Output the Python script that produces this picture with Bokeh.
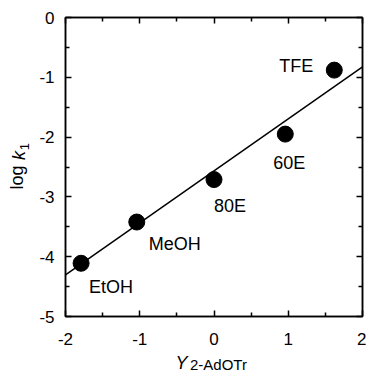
import math
from bokeh.plotting import figure
from bokeh.models import (ColumnDataSource, FixedTicker, LinearAxis, Range1d,
                          CustomJSTickFormatter)
from bokeh.core.properties import value
from bokeh.embed import file_html
from bokeh.resources import INLINE

# ---- data ----
solvents = ["EtOH", "MeOH", "80E", "60E", "TFE"]
y_2adotr = [-1.79, -1.04, 0.00, 0.96, 1.62]
log_k1 = [-4.11, -3.42, -2.71, -1.95, -0.88]
fit_slope = 0.87
fit_intercept = -2.565

x_ticks = [-2, -1, 0, 1, 2]
x_tick_labels = ["-2", "-1", "0", "1", "2"]
x_minor = [-1.5, -0.5, 0.5, 1.5]
y_ticks = [0, -1, -2, -3, -4, -5]
y_tick_labels = ["0", "-1", "-2", "-3", "-4", "-5"]
y_minor = [-0.5, -1.5, -2.5, -3.5, -4.5]

FONT = "Liberation Sans"
X0, X1 = -2, 2
Y0, Y1 = -5, 0

# ---- layout (canvas pixels) ----
FL, FR, FT, FB = 65, 362, 17, 316
W, H = 366, 376
TICK_FS = 17
X_STANDOFF, Y_STANDOFF = 16, 11

p = figure(width=W, height=H, x_range=Range1d(X0, X1), y_range=Range1d(Y0, Y1),
           output_backend="svg", toolbar_location=None,
           min_border_left=FL, min_border_right=W - FR,
           min_border_top=FT, min_border_bottom=H - FB,
           x_axis_location=None, y_axis_location=None)
p.xgrid.visible = False
p.ygrid.visible = False
p.outline_line_color = "black"
p.outline_line_width = 1.5
p.background_fill_color = "white"
p.border_fill_color = "white"


def make_axis(ticks, minor, labels, show_labels, standoff=0):
    ax = LinearAxis(ticker=FixedTicker(ticks=ticks, minor_ticks=minor))
    ax.major_label_overrides = {t: l for t, l in zip(ticks, labels)}
    ax.axis_line_color = "black"
    ax.axis_line_width = 1.5
    ax.major_tick_line_color = "black"
    ax.major_tick_line_width = 1.5
    ax.minor_tick_line_color = "black"
    ax.minor_tick_line_width = 1.5
    ax.major_tick_in = 6
    ax.major_tick_out = 0
    ax.minor_tick_in = 4
    ax.minor_tick_out = 0
    ax.major_label_text_font = FONT
    ax.major_label_text_color = "black"
    if show_labels:
        ax.major_label_text_font_size = f"{TICK_FS}px"
        ax.major_label_standoff = standoff
    else:
        ax.major_label_text_font_size = "0px"
        ax.major_label_standoff = 0
        ax.major_label_text_alpha = 0
    return ax


p.add_layout(make_axis(x_ticks, x_minor, x_tick_labels, True, X_STANDOFF), "below")
p.add_layout(make_axis(y_ticks, y_minor, y_tick_labels, True, Y_STANDOFF), "left")
p.add_layout(make_axis(x_ticks, x_minor, x_tick_labels, False), "above")
p.add_layout(make_axis(y_ticks, y_minor, y_tick_labels, False), "right")

# fit line over the x range
fx = [X0, X1]
fy = [fit_intercept + fit_slope * v for v in fx]
p.line(fx, fy, line_color="black", line_width=1.5)

src = ColumnDataSource(dict(
    x=y_2adotr, y=log_k1, label=solvents,
    xo=[8, 12, 0, -12, -21],
    yo=[24, 22, 26, 29, -4],
    align=["left", "left", "left", "left", "right"],
))
p.scatter("x", "y", source=src, size=16, fill_color="black", line_color="black")
p.text("x", "y", text="label", source=src, x_offset="xo", y_offset="yo",
       text_align="align", text_baseline="middle",
       text_font=value(FONT), text_font_size="18px", text_color="black")


# ---- axis titles: label-only axes stacked in the side panels ----
def dx(px):
    return X0 + (px - FL) / (FR - FL) * (X1 - X0)


def dy(py):
    return Y1 - (py - FT) / (FB - FT) * (Y1 - Y0)


def th(size):  # estimated text box height
    return 1.15 * size


def piece(side, text, along_px, standoff, size, italic=False):
    tick = dx(along_px) if side == "below" else dy(along_px)
    ax = LinearAxis(ticker=FixedTicker(ticks=[tick], minor_ticks=[]),
                    formatter=CustomJSTickFormatter(args=dict(t=text), code="return t"))
    ax.axis_line_color = None
    ax.major_tick_line_color = None
    ax.minor_tick_line_color = None
    ax.major_tick_in = 0
    ax.major_tick_out = 0
    ax.minor_tick_in = 0
    ax.minor_tick_out = 0
    ax.major_label_standoff = int(round(standoff))
    ax.major_label_orientation = "horizontal" if side == "below" else "parallel"
    ax.major_label_text_font = FONT
    ax.major_label_text_font_size = f"{size}px"
    ax.major_label_text_color = "black"
    if italic:
        ax.major_label_text_font_style = "italic"
    p.add_layout(ax, side)


# below: (text, center x, top y, size, italic)
cur = FB + X_STANDOFF + th(TICK_FS)
for text, cx, top, size, it in [("2-AdOTr", 218, 360, 15, False),
                                ("Y", 181, 354, 18, True)]:
    s = top - cur
    piece("below", text, cx, s, size, it)
    cur = top + th(size)

# left: (text, center y, right edge x, size, italic)
cur = FL - Y_STANDOFF - 0.889 * TICK_FS
for text, cy, right, size, it in [("1", 146, 31, 13, False),
                                  ("k", 155, 28, 18, True),
                                  ("log", 177, 28, 18, False)]:
    s = cur - right
    piece("left", text, cy, s, size, it)
    cur = right - th(size)

open("out.html", "w").write(file_html(p, INLINE))
